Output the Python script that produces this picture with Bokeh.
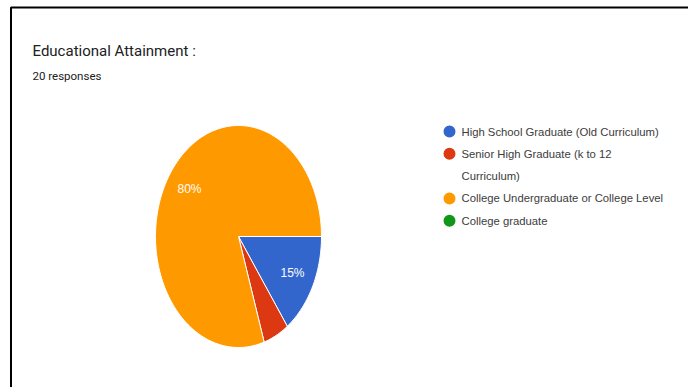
import numpy as np
from bokeh.plotting import figure
from bokeh.models import Range1d, BoxAnnotation
from bokeh.core.properties import value
from bokeh.embed import file_html
from bokeh.resources import INLINE

title = "Educational Attainment :"
subtitle = "20 responses"
categories = [
    "High School Graduate (Old Curriculum)",
    "Senior High Graduate (k to 12\nCurriculum)",
    "College Undergraduate or College Level",
    "College graduate",
]
counts = [3, 1, 16, 0]
colors = ["#3366cc", "#dc3912", "#ff9900", "#109618"]

W, H = 688, 387
p = figure(width=W, height=H, output_backend="svg", toolbar_location=None,
           x_range=Range1d(0, W), y_range=Range1d(H, 0), min_border=0)
p.axis.visible = False
p.grid.visible = False
p.outline_line_color = None
p.background_fill_color = "white"
p.border_fill_color = "white"

# screenshot border
p.add_layout(BoxAnnotation(left=10.5, top=7, right=W + 10, bottom=H + 10,
                           fill_alpha=0, line_color="black", line_alpha=1,
                           line_width=2))

# title
p.text(x=[32], y=[50], text=[title], text_font=value("Roboto"),
       text_font_size="15px", text_color="#202124", text_baseline="middle")
p.text(x=[32], y=[75], text=[subtitle], text_font=value("Roboto"),
       text_font_size="11.5px", text_color="#202124", text_baseline="middle")

# pie (ellipse as in the stretched screenshot)
cx, cy, rx, ry = 238, 236, 83, 111
vals = np.array(counts, dtype=float)
frac = vals / vals.sum()
ends = np.cumsum(frac) * 2 * np.pi
starts = ends - frac * 2 * np.pi
xs, ys, cols, lx, ly, lt = [], [], [], [], [], []
for f, a0, a1, c in zip(frac, starts, ends, colors):
    if f <= 0:
        continue
    t = np.linspace(a0, a1, max(3, int(200 * f) + 2))
    xs.append(list(np.concatenate([[cx], cx + rx * np.cos(t)])))
    ys.append(list(np.concatenate([[cy], cy + ry * np.sin(t)])))
    cols.append(c)
    if f >= 0.1:
        m = (a0 + a1) / 2
        lx.append(cx + 0.73 * rx * np.cos(m))
        ly.append(cy + 0.73 * ry * np.sin(m))
        lt.append(f"{round(f * 100)}%")
p.patches(xs=xs, ys=ys, fill_color=cols, line_color="white", line_width=1)
p.text(x=lx, y=ly, text=lt, text_color="white", text_font=value("Liberation Sans"),
       text_font_size="12px", text_align="center", text_baseline="middle")

# legend
row_y, line_x, line_y, line_t = [], [], [], []
y = 131
for lab in categories:
    row_y.append(y)
    for ln in lab.split("\n"):
        line_x.append(461)
        line_y.append(y)
        line_t.append(ln)
        y += 22.3
p.scatter(x=[449] * len(categories), y=row_y, size=12, fill_color=colors,
          line_color=None, marker="circle")
p.text(x=line_x, y=line_y, text=line_t,
       text_font=value("Liberation Sans"), text_font_size="11.3px",
       text_color="#3c3c3c", text_baseline="middle")

open("out.html", "w").write(file_html(p, INLINE))
